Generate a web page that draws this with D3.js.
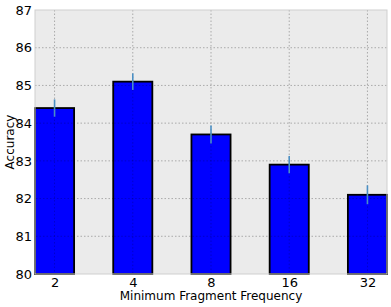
<!DOCTYPE html>
<html>
<head>
<meta charset="utf-8">
<script src="https://cdn.jsdelivr.net/npm/d3@7"></script>
<style>
  body { margin: 0; background: #fff; }
  text { font-family: "DejaVu Sans", sans-serif; fill: #000; }
</style>
</head>
<body>
<svg width="391" height="307"></svg>
<script>
// data
var categories = ["2", "4", "8", "16", "32"];
var accuracy = [84.4, 85.1, 83.7, 82.9, 82.1];
var errors = [0.23, 0.22, 0.24, 0.23, 0.25];
var yTicks = [80, 81, 82, 83, 84, 85, 86, 87];

var svg = d3.select("svg"),
    width = +svg.attr("width"),
    height = +svg.attr("height");

var margin = {left: 35, top: 10, right: 4, bottom: 33};
var pw = width - margin.left - margin.right,
    ph = height - margin.top - margin.bottom;

var g = svg.append("g")
    .attr("transform", "translate(" + margin.left + "," + margin.top + ")");

// scales
var x = d3.scaleLinear().domain([-0.25, categories.length - 0.75]).range([0, pw]);
var y = d3.scaleLinear().domain([80, 87]).range([ph, 0]);
var barW = x(0.5) - x(0);

// background
g.append("rect")
    .attr("width", pw).attr("height", ph)
    .style("fill", "#ebebeb");

// grid
g.selectAll(".hgrid")
    .data(yTicks.slice(1, -1))
    .enter().append("line")
    .attr("x1", 0).attr("x2", pw)
    .attr("y1", d => y(d)).attr("y2", d => y(d))
    .style("stroke", "#999").style("stroke-width", 0.8)
    .style("stroke-dasharray", "1.5,2");

g.selectAll(".vgrid")
    .data(categories)
    .enter().append("line")
    .attr("x1", (d, i) => x(i)).attr("x2", (d, i) => x(i))
    .attr("y1", 0).attr("y2", ph)
    .style("stroke", "#999").style("stroke-width", 0.8)
    .style("stroke-dasharray", "1.5,2");

// bars
g.selectAll(".bar")
    .data(accuracy)
    .enter().append("rect")
    .attr("x", (d, i) => x(i) - barW / 2)
    .attr("y", d => y(d))
    .attr("width", barW)
    .attr("height", d => ph - y(d))
    .style("fill", "#0000ff")
    .style("stroke", "#000")
    .style("stroke-width", 1.8);

// grid over bars (matplotlib draws dotted grid on top)
g.selectAll(".vgrid2")
    .data(categories)
    .enter().append("line")
    .attr("x1", (d, i) => x(i)).attr("x2", (d, i) => x(i))
    .attr("y1", (d, i) => y(accuracy[i]) + 1).attr("y2", ph)
    .style("stroke", "#000").style("stroke-width", 0.6).style("opacity", 0.35)
    .style("stroke-dasharray", "1.5,2");

g.selectAll(".hgrid2")
    .data(yTicks.slice(1, -1))
    .enter().append("g")
    .each(function(t) {
        var sel = d3.select(this);
        accuracy.forEach(function(v, i) {
            if (v > t) {
                sel.append("line")
                    .attr("x1", x(i) - barW / 2 + 1).attr("x2", x(i) + barW / 2 - 1)
                    .attr("y1", y(t)).attr("y2", y(t))
                    .style("stroke", "#000").style("stroke-width", 0.6).style("opacity", 0.35)
                    .style("stroke-dasharray", "1.5,2");
            }
        });
    });

// error bars
g.selectAll(".err")
    .data(accuracy)
    .enter().append("line")
    .attr("x1", (d, i) => x(i)).attr("x2", (d, i) => x(i))
    .attr("y1", (d, i) => y(d + errors[i]))
    .attr("y2", (d, i) => y(d - errors[i]))
    .style("stroke", "#4a8fc4")
    .style("stroke-width", 1.6);

// frame
g.append("rect")
    .attr("width", pw).attr("height", ph)
    .style("fill", "none")
    .style("stroke", "#cfcfcf").style("stroke-width", 1);

// axes
var yAxis = g.append("g")
    .call(d3.axisLeft(y).tickValues(yTicks).tickFormat(d3.format("d")).tickSize(0).tickPadding(3));
yAxis.select(".domain").remove();
yAxis.selectAll("text").style("font-size", "13px");

var xAxis = g.append("g")
    .attr("transform", "translate(0," + ph + ")")
    .call(d3.axisBottom(x).tickValues(d3.range(categories.length))
        .tickFormat(i => categories[i]).tickSize(0).tickPadding(4));
xAxis.select(".domain").remove();
xAxis.selectAll("text").style("font-size", "13px");

// labels
svg.append("text")
    .attr("x", margin.left + pw / 2)
    .attr("y", height - 7)
    .attr("text-anchor", "middle")
    .style("font-size", "12px")
    .text("Minimum Fragment Frequency");

svg.append("text")
    .attr("transform", "translate(14," + (margin.top + ph / 2) + ") rotate(-90)")
    .attr("text-anchor", "middle")
    .style("font-size", "12px")
    .text("Accuracy");
</script>
</body>
</html>
